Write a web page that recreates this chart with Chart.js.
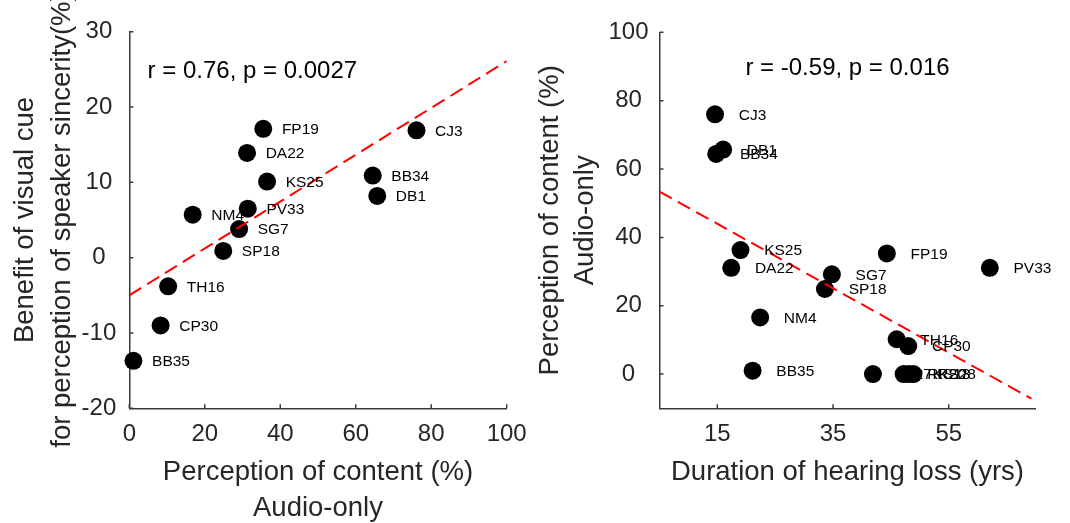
<!DOCTYPE html>
<html>
<head>
<meta charset="utf-8">
<script src="https://cdn.jsdelivr.net/npm/chart.js@4.4.0/dist/chart.umd.min.js"></script>
<style>
  html, body { margin: 0; padding: 0; background: #fff; overflow: hidden; }
  #wrap { position: relative; width: 1070px; height: 523px; overflow: hidden; }
  #left { position: absolute; left: 0; top: 0; }
  #right { position: absolute; left: 530px; top: 0; }
</style>
</head>
<body>
<div id="wrap">
  <canvas id="left" width="539" height="530"></canvas>
  <canvas id="right" width="540" height="530"></canvas>
</div>
<script>
const FONT = '"Liberation Sans", Arial, Helvetica, sans-serif';
const TEXT = '#262626';
const AXIS = '#3a3a3a';

// left panel: audio-only perception (x) vs benefit of visual cue (y)
const leftNames = ['FP19', 'DA22', 'KS25', 'PV33', 'NM4', 'SG7', 'SP18', 'TH16', 'CP30', 'BB35', 'CJ3', 'BB34', 'DB1'];
const leftX = [35.5, 31.2, 36.5, 31.4, 16.8, 29.1, 24.9, 10.3, 8.3, 1.1, 76.1, 64.5, 65.7];
const leftY = [17.1, 13.9, 10.1, 6.5, 5.7, 3.8, 0.9, -3.8, -9.0, -13.7, 16.9, 10.9, 8.2];
const leftFitX = [0, 100];
const leftFitY = [-5.0, 26.1];
const leftXTicks = [0, 20, 40, 60, 80, 100];
const leftYTicks = [-20, -10, 0, 10, 20, 30];
const leftStat = 'r = 0.76, p = 0.0027';

// right panel: duration of hearing loss (x) vs audio-only perception (y)
const rightNames = ['CJ3', 'DB1', 'BB34', 'KS25', 'DA22', 'SG7', 'SP18', 'FP19', 'PV33', 'NM4', 'TH16', 'CP30', 'BB35', 'JB27', 'RK20', 'KS13', 'RS28'];
const rightX = [14.6, 16.0, 14.8, 19.0, 17.4, 34.8, 33.6, 44.3, 62.1, 22.4, 46.0, 48.0, 21.1, 41.9, 47.2, 48.1, 48.9];
const rightY = [76.0, 65.7, 64.4, 36.3, 31.1, 29.2, 24.9, 35.3, 31.1, 16.6, 10.2, 8.2, 1.0, 0, 0, 0, 0];
const rightFitX = [5, 69.3];
const rightFitY = [53.4, -7.2];
const rightXTicks = [15, 35, 55];
const rightYTicks = [0, 20, 40, 60, 80, 100];
const rightStat = 'r = -0.59, p = 0.016';

function pts(xs, ys) {
    return xs.map((x, i) => ({ x: x, y: ys[i] }));
}

// name next to each dot
const pointLabels = {
    id: 'pointLabels',
    afterDatasetsDraw(chart, args, opts) {
        const ctx = chart.ctx;
        const meta = chart.getDatasetMeta(1);
        ctx.save();
        ctx.font = '15.5px ' + FONT;
        ctx.fillStyle = '#000';
        ctx.textAlign = 'left';
        ctx.textBaseline = 'middle';
        meta.data.forEach((el, i) => {
            ctx.fillText(opts.names[i], el.x + opts.dx, el.y + 1);
        });
        // correlation text
        const sx = chart.scales.x, sy = chart.scales.y;
        ctx.font = '24px ' + FONT;
        ctx.textAlign = 'center';
        ctx.fillText(opts.stat, sx.getPixelForValue(opts.statAt[0]), sy.getPixelForValue(opts.statAt[1]));
        ctx.restore();
    }
};

// matlab style ticks pointing inward + rotated y title
const axisExtras = {
    id: 'axisExtras',
    afterDraw(chart, args, opts) {
        const ctx = chart.ctx;
        const sx = chart.scales.x, sy = chart.scales.y;
        const a = chart.chartArea;
        ctx.save();
        ctx.strokeStyle = AXIS;
        ctx.lineWidth = 1.5;
        ctx.beginPath();
        sx.ticks.forEach(t => {
            const p = sx.getPixelForValue(t.value);
            ctx.moveTo(p, a.bottom);
            ctx.lineTo(p, a.bottom - 4);
        });
        sy.ticks.forEach(t => {
            const p = sy.getPixelForValue(t.value);
            ctx.moveTo(a.left, p);
            ctx.lineTo(a.left + 4, p);
        });
        ctx.stroke();

        ctx.font = '27.5px ' + FONT;
        ctx.fillStyle = TEXT;
        ctx.textAlign = 'center';
        ctx.textBaseline = 'middle';
        const cy = (a.top + a.bottom) / 2;
        opts.yTitle.forEach((line, i) => {
            ctx.save();
            ctx.translate(opts.yTitleX[i], cy);
            ctx.rotate(-Math.PI / 2);
            ctx.fillText(line, 0, 0);
            ctx.restore();
        });
        ctx.restore();
    }
};

function makeChart(id, cfg) {
    return new Chart(document.getElementById(id), {
        type: 'scatter',
        data: {
            datasets: [
                {
                    type: 'line',
                    data: pts(cfg.fitX, cfg.fitY),
                    borderColor: '#ff0000',
                    borderWidth: 2,
                    borderDash: [14, 7],
                    pointRadius: 0,
                    showLine: true,
                    fill: false,
                    order: 0
                },
                {
                    data: pts(cfg.x, cfg.y),
                    backgroundColor: '#000',
                    borderWidth: 0,
                    pointRadius: 9,
                    pointHoverRadius: 9,
                    clip: false,
                    order: 1
                }
            ]
        },
        options: {
            responsive: false,
            animation: false,
            events: [],
            layout: { padding: cfg.padding },
            scales: {
                x: {
                    type: 'linear',
                    min: cfg.xMin,
                    max: cfg.xMax,
                    afterBuildTicks: s => { s.ticks = cfg.xTicks.map(v => ({ value: v })); },
                    afterFit: s => { s.height = 121.7; },
                    grid: { display: true, drawOnChartArea: false, drawTicks: false },
                    border: { display: true, color: AXIS, width: 1.5 },
                    ticks: { padding: 12, color: TEXT, font: { family: FONT, size: 24 }, maxRotation: 0 },
                    title: {
                        display: true,
                        text: cfg.xTitle,
                        color: TEXT,
                        font: { family: FONT, size: 27.5, lineHeight: 1.31 },
                        padding: { top: 0, bottom: cfg.xTitlePad }
                    }
                },
                y: {
                    type: 'linear',
                    min: cfg.yMin,
                    max: cfg.yMax,
                    afterBuildTicks: s => { s.ticks = cfg.yTicks.map(v => ({ value: v })); },
                    afterFit: s => { s.width = cfg.yWidth; },
                    grid: { display: true, drawOnChartArea: false, drawTicks: false },
                    border: { display: true, color: AXIS, width: 1.5 },
                    ticks: { padding: cfg.yPad, crossAlign: 'center', color: TEXT, font: { family: FONT, size: 24 } }
                }
            },
            plugins: {
                legend: { display: false },
                tooltip: { enabled: false },
                pointLabels: { names: cfg.names, dx: cfg.dx, stat: cfg.stat, statAt: cfg.statAt },
                axisExtras: { yTitle: cfg.yTitle, yTitleX: cfg.yTitleX }
            }
        },
        plugins: [pointLabels, axisExtras]
    });
}

makeChart('left', {
    x: leftX, y: leftY, names: leftNames, fitX: leftFitX, fitY: leftFitY,
    xMin: 0, xMax: 100, yMin: -20, yMax: 30, xTicks: leftXTicks, yTicks: leftYTicks,
    padding: { left: 0, top: 31.7, right: 32.3, bottom: 0 },
    yWidth: 129.3, yPad: 13, dx: 18.6,
    xTitle: ['Perception of content (%)', 'Audio-only'], xTitlePad: 4,
    yTitle: ['Benefit of visual cue', 'for perception of speaker sincerity(%)'], yTitleX: [25.3, 62.5],
    stat: leftStat, statAt: [32.6, 24.7]
});

makeChart('right', {
    x: rightX, y: rightY, names: rightNames, fitX: rightFitX, fitY: rightFitY,
    xMin: 5, xMax: 70, yMin: -10, yMax: 100, xTicks: rightXTicks, yTicks: rightYTicks,
    padding: { left: 0, top: 32.3, right: 34.5, bottom: 0 },
    yWidth: 129.5, yPad: 11, dx: 23.7,
    xTitle: 'Duration of hearing loss (yrs)', xTitlePad: 40,
    yTitle: ['Perception of content (%)', 'Audio-only'], yTitleX: [20.7, 55],
    stat: rightStat, statAt: [37.5, 89.5]
});
</script>
</body>
</html>
